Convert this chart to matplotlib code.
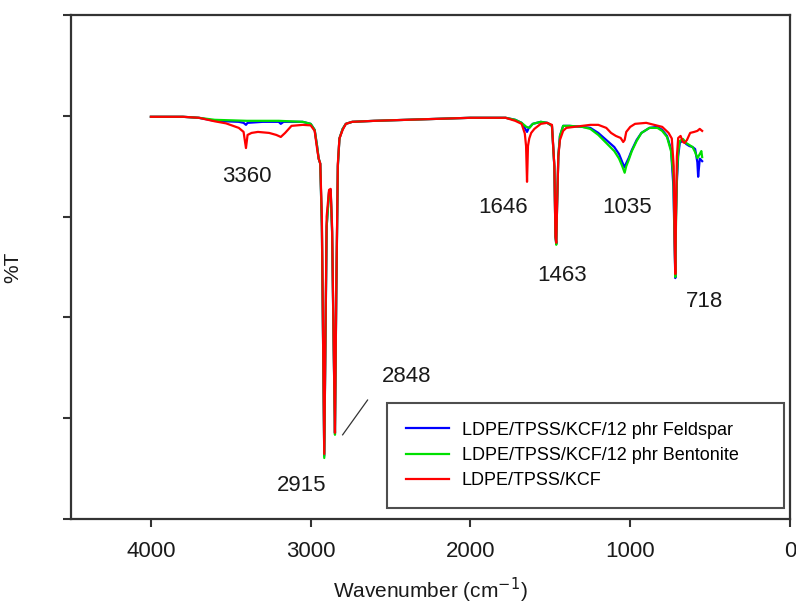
import matplotlib.pyplot as plt

plt.rcParams['font.family'] = ['Liberation Sans', 'DejaVu Sans']

# LDPE/TPSS/KCF/12 phr Feldspar
feld_wn = [4000, 3800, 3700, 3600, 3450, 3420, 3405, 3395, 3300, 3200, 3187, 3170, 3050, 3000,
           2975, 2960, 2950, 2940, 2930, 2922, 2915, 2908, 2900, 2885, 2875, 2866, 2856, 2848,
           2840, 2830, 2820, 2800, 2780, 2740, 2600, 2400, 2200, 2000, 1780, 1720, 1680, 1660,
           1646, 1635, 1610, 1560, 1520, 1490, 1475, 1468, 1463, 1458, 1450, 1440, 1420, 1380,
           1300, 1250, 1200, 1150, 1100, 1070, 1050, 1035, 1025, 1010, 990, 960, 930, 880, 830,
           800, 770, 745, 730, 722, 718, 714, 708, 700, 690, 670, 650, 630, 610, 594, 580, 575,
           565, 550]
feld_t = [79.8, 79.8, 79.6, 79.0, 78.8, 78.6, 78.2, 78.6, 78.8, 78.8, 78.4, 78.8, 78.8, 78.4,
          77.2, 74.0, 71.5, 70.5, 58.0, 34.0, 12.5, 34.0, 58.0, 65.0, 65.3, 57.0, 34.0, 17.0,
          44.0, 70.0, 75.5, 77.4, 78.4, 78.8, 79.0, 79.2, 79.4, 79.6, 79.6, 79.2, 78.6, 77.6,
          76.8, 77.6, 78.4, 78.8, 78.6, 78.0, 70.0, 56.0, 54.6, 62.0, 72.0, 76.0, 78.0, 78.0,
          77.8, 77.6, 76.6, 75.2, 73.8, 72.4, 70.8, 69.8, 70.6, 71.6, 73.2, 75.2, 76.6, 77.6,
          77.8, 77.2, 76.0, 73.4, 66.0, 54.0, 47.8, 60.0, 67.0, 72.0, 74.6, 75.2, 74.4, 74.0,
          73.8, 73.4, 70.8, 67.9, 71.5, 71.0]

# LDPE/TPSS/KCF/12 phr Bentonite
bent_wn = [4000, 3800, 3700, 3600, 3400, 3200, 3050, 3000, 2975, 2960, 2950, 2940, 2930, 2922,
           2915, 2908, 2900, 2885, 2875, 2866, 2856, 2848, 2840, 2830, 2820, 2800, 2780, 2740,
           2600, 2400, 2200, 2000, 1780, 1720, 1680, 1650, 1630, 1610, 1560, 1520, 1490, 1475,
           1468, 1463, 1458, 1450, 1440, 1420, 1380, 1300, 1250, 1200, 1150, 1100, 1070, 1050,
           1035, 1025, 1010, 990, 960, 930, 880, 830, 800, 770, 745, 730, 722, 718, 714, 708,
           700, 690, 670, 650, 630, 610, 594, 580, 565, 555, 550]
bent_t = [79.8, 79.8, 79.6, 79.2, 79.0, 79.0, 78.8, 78.4, 77.2, 74.0, 71.5, 70.5, 58.0, 34.0,
          12.1, 34.0, 58.0, 64.8, 65.0, 57.0, 34.0, 16.7, 44.0, 70.0, 75.5, 77.4, 78.4, 78.8,
          79.0, 79.2, 79.4, 79.6, 79.6, 79.2, 78.6, 77.8, 77.6, 78.4, 78.8, 78.6, 78.0, 70.0,
          56.0, 54.4, 62.0, 72.0, 76.0, 78.0, 78.0, 77.8, 77.4, 76.2, 74.6, 73.0, 71.5, 70.0,
          68.7, 70.0, 71.2, 73.0, 75.0, 76.6, 77.6, 77.6, 77.0, 75.8, 73.0, 68.0, 55.0, 48.0,
          58.0, 68.0, 72.8, 75.0, 75.4, 74.6, 74.2, 73.8, 72.8, 71.6, 72.4, 73.0, 71.8]

# LDPE/TPSS/KCF
kcf_wn = [4000, 3800, 3700, 3600, 3530, 3450, 3420, 3405, 3395, 3370, 3330, 3260, 3215, 3187,
          3160, 3120, 3050, 3000, 2975, 2960, 2950, 2940, 2930, 2922, 2915, 2908, 2900, 2885,
          2875, 2866, 2856, 2848, 2840, 2830, 2820, 2800, 2780, 2740, 2600, 2400, 2200, 2000,
          1780, 1720, 1680, 1660, 1652, 1646, 1640, 1632, 1620, 1600, 1560, 1520, 1490, 1475,
          1468, 1463, 1458, 1450, 1440, 1420, 1400, 1350, 1300, 1250, 1200, 1150, 1120, 1090,
          1060, 1044, 1035, 1025, 1000, 970, 900, 850, 800, 760, 740, 728, 722, 718, 714, 708,
          700, 685, 670, 660, 645, 625, 600, 580, 565, 550]
kcf_t = [79.8, 79.8, 79.6, 78.9, 78.5, 77.6, 76.8, 73.6, 76.2, 76.6, 76.8, 76.6, 76.2, 75.8,
         76.6, 78.0, 78.2, 78.1, 77.0, 73.5, 71.5, 70.5, 60.0, 35.0, 12.9, 35.0, 60.0, 65.3,
         65.5, 58.0, 35.0, 17.1, 45.0, 70.5, 75.5, 77.2, 78.4, 78.8, 79.0, 79.2, 79.4, 79.6,
         79.6, 79.0, 78.4, 76.5, 74.0, 66.9, 74.0, 75.5, 76.6, 77.4, 78.4, 78.6, 78.2, 70.0,
         56.0, 54.8, 62.0, 72.0, 75.2, 77.0, 77.6, 77.8, 78.0, 78.2, 78.2, 77.6, 76.6, 76.0,
         75.6, 74.8, 75.2, 76.8, 77.8, 78.4, 78.6, 78.2, 77.8, 76.6, 75.5, 70.0, 55.0, 48.6,
         60.0, 72.0, 75.6, 76.0, 74.8, 74.6, 75.2, 76.6, 76.8, 77.0, 77.4, 77.0]

# peak labels: (text, wavenumber, %T)
peak_labels = [('3360', 3400, 67.9), ('2915', 3056, 6.7), ('2848', 2400, 28.2),
               ('1646', 1794, 61.9), ('1463', 1425, 48.4), ('1035', 1019, 61.9),
               ('718', 535, 43.1)]

fig = plt.figure(figsize=(7.96, 6.09), dpi=100)
ax = fig.add_axes([0.0892, 0.1478, 0.9033, 0.8276])

ax.plot(feld_wn, feld_t, color='#0000ff', lw=1.6, label='LDPE/TPSS/KCF/12 phr Feldspar')
ax.plot(bent_wn, bent_t, color='#00e000', lw=1.6, label='LDPE/TPSS/KCF/12 phr Bentonite')
ax.plot(kcf_wn, kcf_t, color='#ff0000', lw=1.6, label='LDPE/TPSS/KCF')

for txt, x, y in peak_labels:
    ax.text(x, y, txt, fontsize=16, ha='center', va='center', color='#1a1a1a')
# leader line for the 2848 band
ax.plot([2800, 2644], [16.7, 23.6], color='#333333', lw=0.9)

ax.set_xlim(4500, 0)
ax.set_ylim(0, 100)
ax.set_xticks([4000, 3000, 2000, 1000, 0])
ax.set_yticks([0, 20, 40, 60, 80, 100])
ax.set_yticklabels([])
ax.tick_params(direction='out', length=6, width=1.5, color='#333333', labelsize=16,
               labelcolor='#1a1a1a', pad=10)
for s in ax.spines.values():
    s.set_linewidth(1.6)
    s.set_color('#333333')

ax.set_xlabel('Wavenumber (cm$^{-1}$)', fontsize=15, color='#1a1a1a', labelpad=10)
ax.set_ylabel('%T', fontsize=15, color='#1a1a1a')
ax.yaxis.set_label_coords(-0.068, 0.5)

leg = ax.legend(loc='lower left', bbox_to_anchor=(0.4395, 0.0218, 0.5522, 0.2), mode='expand',
                fontsize=13, frameon=True, fancybox=False, edgecolor='#222222',
                handlelength=2.4, handletextpad=0.7, labelspacing=0.45, borderpad=1.05,
                borderaxespad=0)
leg.get_frame().set_linewidth(1.5)

fig.savefig('out.png', dpi=100)
